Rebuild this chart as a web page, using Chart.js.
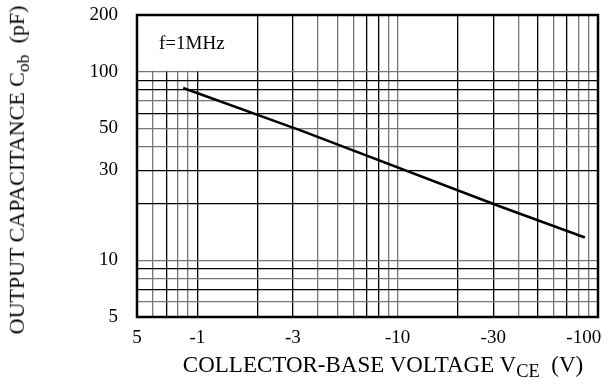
<!DOCTYPE html>
<html>
<head>
<meta charset="utf-8">
<script src="https://cdn.jsdelivr.net/npm/chart.js@4.4.1/dist/chart.umd.min.js"></script>
<style>
  html, body { margin: 0; padding: 0; background: #fff; }
  #wrap { position: relative; width: 616px; height: 389px; font-family: "Liberation Serif", "DejaVu Serif", serif; color: #000; }
  #chart { position: absolute; left: 0; top: 0; }
  .lbl { position: absolute; white-space: nowrap; }
  #ytitle { left: 19px; top: 170px; font-size: 22px; transform: translate(-50%, -50%) rotate(-90deg); }
  #xtitle { left: 383px; top: 367px; font-size: 23px; transform: translate(-50%, -50%); }
  #note { left: 159px; top: 43px; font-size: 19px; transform: translateY(-50%); }
  sub { font-size: 0.8em; vertical-align: -0.3em; }
</style>
</head>
<body>
<div id="wrap">
  <canvas id="chart" width="616" height="389"></canvas>
  <div class="lbl" id="ytitle">OUTPUT CAPACITANCE C<sub>ob</sub>&nbsp;&nbsp;(pF)</div>
  <div class="lbl" id="xtitle">COLLECTOR-BASE VOLTAGE V<sub>CE</sub>&nbsp;&nbsp;(V)</div>
  <div class="lbl" id="note">f=1MHz</div>
</div>
<script>
// valori (|VCB| in V, Cob in pF)
const vcb = [0.85, 3.3, 32, 86];
const cob = [82, 48.7, 19.4, 13.2];

// griglia e etichette degli assi
const xTicks = [0.5, 0.6, 0.7, 0.8, 0.9, 1, 2, 3, 4, 5, 6, 7, 8, 9, 10, 20, 30, 40, 50, 60, 70, 80, 90, 100];
const xLabels = { 0.5: '5', 1: '-1', 3: '-3', 10: '-10', 30: '-30', 100: '-100' };
const yTicks = [5, 6, 7, 8, 9, 10, 20, 30, 40, 50, 60, 70, 80, 90, 100, 200];
const yLabels = { 5: '5', 10: '10', 30: '30', 50: '50', 100: '100', 200: '200' };

// linee della griglia più scure
const darkX = [0.7, 1, 2, 3, 7, 8, 20, 30, 50, 70];
const darkY = [7, 9, 20, 30, 60, 80, 90];

const tickFont = { family: 'Liberation Serif', size: 19 };

// l'ultima etichetta nell'originale sta un po' a sinistra del bordo
const xLabel = v => {
  const t = xLabels[v] || '';
  return v === 100 ? t + '\u2002\u2002\u2002' : t;
};

// riquadro vuoto in alto a sinistra (dietro la nota f=1MHz)
const blankPlugin = {
  id: 'blank',
  beforeDatasetsDraw(chart) {
    const x = chart.scales.x, y = chart.scales.y;
    const left = x.getPixelForValue(0.5) + 1;
    const right = x.getPixelForValue(2) - 1;
    const top = y.getPixelForValue(200) + 1;
    const bottom = y.getPixelForValue(100) - 1;
    const ctx = chart.ctx;
    ctx.save();
    ctx.fillStyle = '#fff';
    ctx.fillRect(left, top, right - left, bottom - top);
    ctx.restore();
  }
};

// cornice attorno all'area del grafico
const framePlugin = {
  id: 'frame',
  afterDraw(chart) {
    const a = chart.chartArea;
    const ctx = chart.ctx;
    ctx.save();
    ctx.strokeStyle = '#000';
    ctx.lineWidth = 2.5;
    ctx.strokeRect(a.left, a.top, a.right - a.left, a.bottom - a.top);
    ctx.restore();
  }
};

new Chart(document.getElementById('chart'), {
  type: 'line',
  data: {
    datasets: [{
      data: vcb.map((v, i) => ({ x: v, y: cob[i] })),
      borderColor: '#000',
      borderWidth: 2.5,
      pointRadius: 0,
      tension: 0,
      fill: false
    }]
  },
  options: {
    responsive: false,
    animation: false,
    devicePixelRatio: 1,
    layout: { padding: { top: 15, right: 18, left: 0, bottom: 0 } },
    plugins: { legend: { display: false }, tooltip: { enabled: false } },
    scales: {
      x: {
        type: 'logarithmic',
        min: 0.5,
        max: 100,
        afterBuildTicks: s => { s.ticks = xTicks.map(v => ({ value: v })); },
        afterFit: s => { s.height = 72; s.paddingLeft = 0; s.paddingRight = 0; },
        ticks: {
          autoSkip: false,
          maxRotation: 0,
          padding: 10,
          color: '#000',
          font: tickFont,
          callback: xLabel
        },
        grid: {
          drawTicks: false,
          lineWidth: 1.3,
          color: c => (c.tick && darkX.includes(c.tick.value)) ? '#000' : '#777'
        },
        border: { display: false }
      },
      y: {
        type: 'logarithmic',
        min: 5,
        max: 200,
        afterBuildTicks: s => { s.ticks = yTicks.map(v => ({ value: v })); },
        afterFit: s => { s.width = 137; s.paddingTop = 0; s.paddingBottom = 0; },
        ticks: {
          autoSkip: false,
          padding: 19,
          color: '#000',
          font: tickFont,
          callback: v => yLabels[v] || ''
        },
        grid: {
          drawTicks: false,
          lineWidth: 1.3,
          color: c => (c.tick && darkY.includes(c.tick.value)) ? '#000' : '#777'
        },
        border: { display: false }
      }
    }
  },
  plugins: [blankPlugin, framePlugin]
});
</script>
</body>
</html>
